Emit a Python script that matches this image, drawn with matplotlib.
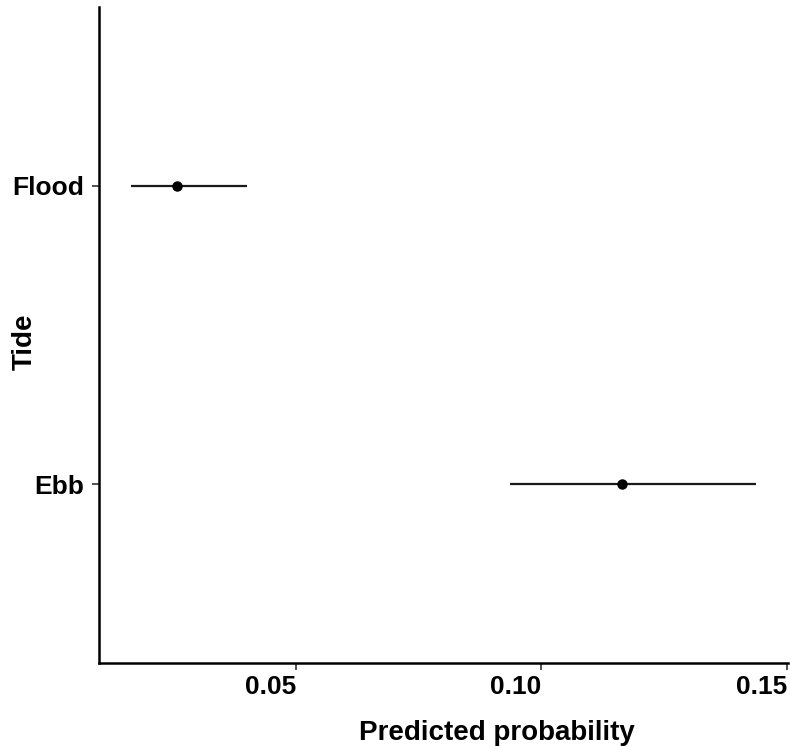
import matplotlib
matplotlib.use('Agg')
import matplotlib.pyplot as plt

# predicted probabilities with confidence limits, by tide state
tide = ['Ebb', 'Flood']
prob = [0.1164, 0.0258]
lower = [0.0936, 0.0164]
upper = [0.1437, 0.0400]

plt.rcParams['font.family'] = ['Liberation Sans', 'DejaVu Sans']
plt.rcParams['font.weight'] = 'bold'

fig = plt.figure(figsize=(7.9, 7.46), dpi=100)
ax = fig.add_axes([0.1253, 0.1113, 0.8722, 0.8793])

ypos = list(range(1, len(tide) + 1))
ax.hlines(ypos, lower, upper, color='#1a1a1a', linewidth=1.6)
ax.plot(prob, ypos, 'o', color='black', markersize=6.5)

ax.set_xlim(0.0099, 0.1502)
ax.set_ylim(0.4, 2.6)
ax.set_yticks(ypos)
ax.set_yticklabels(tide)
ax.set_xticks([0.05, 0.10, 0.15])
ax.set_xticklabels(['0.05', '0.10', '0.15'], ha='right')

ax.tick_params(axis='both', colors='#333333', length=5, width=1.2,
               labelsize=19, labelcolor='black')
ax.tick_params(axis='y', pad=6)
ax.tick_params(axis='x', pad=4)

for side in ['top', 'right']:
    ax.spines[side].set_visible(False)
for side in ['left', 'bottom']:
    ax.spines[side].set_linewidth(1.8)
    ax.spines[side].set_color('black')

ax.set_xlabel('Predicted probability', fontsize=20, fontweight='bold')
ax.set_ylabel('Tide', fontsize=20, fontweight='bold')
ax.xaxis.set_label_coords(0.578, -0.087)
ax.yaxis.set_label_coords(-0.089, 0.489)

fig.savefig('out.png', dpi=100)
